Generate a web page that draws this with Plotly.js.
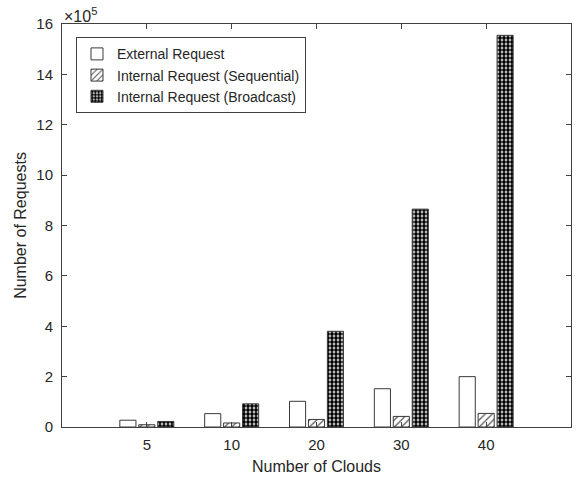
<!DOCTYPE html>
<html>
<head>
<meta charset="utf-8">
<script src="https://cdn.plot.ly/plotly-3.0.1.min.js"></script>
<style>html,body{margin:0;padding:0;background:#fff;}#chart{width:581px;height:479px;}</style>
</head>
<body>
<div id="chart"></div>
<script>
// Data (number of requests)
var clouds = ['5', '10', '20', '30', '40'];
var externalReq = [27000, 53000, 102000, 152000, 200000];
var internalSeq = [9000, 16000, 30000, 42000, 54000];
var internalBroadcast = [22000, 92000, 380000, 865000, 1555000];
var seriesNames = ['External Request', 'Internal Request (Sequential)', 'Internal Request (Broadcast)'];
var yTickValues = [0, 200000, 400000, 600000, 800000, 1000000, 1200000, 1400000, 1600000];

var axisColor = '#404040';
var edge = {color: '#3a3a3a', width: 1};

var traces = [
  {type: 'bar', name: seriesNames[0], x: clouds, y: externalReq,
   marker: {color: '#ffffff', line: edge}},
  {type: 'bar', name: seriesNames[1], x: clouds, y: internalSeq,
   marker: {color: '#ffffff', line: edge,
     pattern: {shape: '/', fgcolor: '#555555', bgcolor: '#ffffff', size: 5, solidity: 0.25}}},
  {type: 'bar', name: seriesNames[2], x: clouds, y: internalBroadcast,
   marker: {color: '#ffffff', line: edge,
     pattern: {shape: '.', fgcolor: '#000000', bgcolor: '#ffffff', size: 4, solidity: 0.7}}}
];

var layout = {
  width: 581, height: 479,
  margin: {l: 62, r: 10, t: 24, b: 52},
  paper_bgcolor: '#ffffff', plot_bgcolor: '#ffffff',
  font: {family: 'Liberation Sans, Arial, sans-serif', size: 15, color: '#262626'},
  barmode: 'group', bargap: 0.33, bargroupgap: 0.15,
  showlegend: true,
  legend: {x: 0.0275, y: 0.967, xanchor: 'left', yanchor: 'top',
    bgcolor: '#ffffff', bordercolor: axisColor, borderwidth: 1,
    font: {size: 14, color: '#262626'}, tracegroupgap: 0, traceorder: 'normal'},
  xaxis: {type: 'category', range: [-1, 5], showline: true, linecolor: axisColor, linewidth: 1,
    mirror: 'ticks', ticks: 'inside', ticklen: 5, tickcolor: axisColor,
    showgrid: false, zeroline: false, ticklabelstandoff: 4,
    title: {text: 'Number of Clouds', font: {size: 16}, standoff: 8}},
  yaxis: {range: [0, 1600000], showline: true, linecolor: axisColor, linewidth: 1,
    mirror: 'ticks', ticks: 'inside', ticklen: 5, tickcolor: axisColor,
    showgrid: false, zeroline: false, ticklabelstandoff: 5,
    tickvals: yTickValues, ticktext: yTickValues.map(function(v){ return String(v / 100000); }),
    title: {text: 'Number of Requests', font: {size: 16}, standoff: 5}},
  annotations: [{xref: 'paper', yref: 'paper', x: 0, y: 1, xanchor: 'left', yanchor: 'bottom',
    yshift: -3, text: '×10<sup>5</sup>', showarrow: false, font: {size: 16, color: '#262626'}}]
};

Plotly.newPlot('chart', traces, layout, {displayModeBar: false, staticPlot: true});
</script>
</body>
</html>
